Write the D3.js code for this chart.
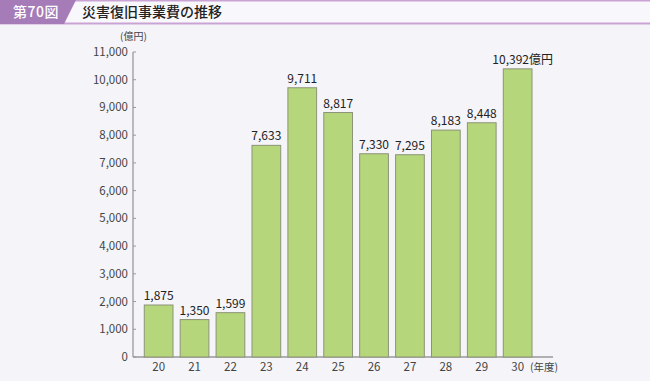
<!DOCTYPE html>
<html>
<head>
<meta charset="utf-8">
<script src="https://cdn.jsdelivr.net/npm/d3@7"></script>
<style>
body{margin:0;background:#f5f4f9;font-family:"Noto Sans CJK JP","Noto Sans",sans-serif;}
svg{display:block;}
</style>
</head>
<body>
<svg id="svg" width="650" height="381"></svg>
<script>
var years=["20","21","22","23","24","25","26","27","28","29","30"];
var values=[1875,1350,1599,7633,9711,8817,7330,7295,8183,8448,10392];
var yTicks=[0,1000,2000,3000,4000,5000,6000,7000,8000,9000,10000,11000];

var svg=d3.select("#svg");

// header band
svg.append("rect").attr("x",0).attr("y",0).attr("width",650).attr("height",24).style("fill","#f8f7fb")
svg.append("rect").attr("x",0).attr("y",0).attr("width",650).attr("height",1.5).style("fill","#c9a3d3")
svg.append("rect").attr("x",0).attr("y",22.5).attr("width",650).attr("height",2).style("fill","#c9a3d3")
svg.append("path").attr("d","M0,0 L76,0 L64,24 L0,24 Z").style("fill","#a67cb8")
svg.append("text").attr("x",13).attr("y",17).text("第70図")
    .style("fill","#fff").style("font-size","14px").style("font-weight","500").style("letter-spacing","0.5px")
svg.append("text").attr("x",82).attr("y",17).text("災害復旧事業費の推移")
    .style("fill","#222").style("font-size","14px").style("font-weight","500")

var x=d3.scaleBand().domain(years).range([137.1,539.2]).paddingInner(0.2).paddingOuter(0.2)
var y=d3.scaleLinear().domain([0,11000]).range([357,52])

var g=svg.append("g")

// axes
g.append("line").attr("x1",133).attr("x2",133).attr("y1",y(11000)).attr("y2",y(0))
    .style("stroke","#999").style("stroke-width",1.3)
g.append("line").attr("x1",133).attr("x2",553).attr("y1",y(0)).attr("y2",y(0))
    .style("stroke","#999").style("stroke-width",1.3)

g.selectAll(".ytick").data(yTicks).enter().append("line")
    .attr("x1",133).attr("x2",136).attr("y1",d=>y(d)).attr("y2",d=>y(d))
    .style("stroke","#999").style("stroke-width",1)
g.selectAll(".ylab").data(yTicks).enter().append("text")
    .attr("x",128).attr("y",d=>y(d)+4).attr("text-anchor","end")
    .text(d=>d3.format(",")(d))
    .style("fill","#444").style("font-size","11.5px")

svg.append("text").attr("x",120).attr("y",40).text("(億円)")
    .style("fill","#444").style("font-size","10px")

// bars
g.selectAll(".bar").data(values).enter().append("rect")
    .attr("x",(d,i)=>x(years[i]))
    .attr("y",d=>y(d))
    .attr("width",x.bandwidth())
    .attr("height",d=>y(0)-y(d))
    .style("fill","#b5d67a")
    .style("stroke","#8c9478")
    .style("stroke-width",1)

g.selectAll(".val").data(values).enter().append("text")
    .attr("x",(d,i)=>x(years[i])+x.bandwidth()/2+(i==10?5:0))
    .attr("y",d=>y(d)-5)
    .attr("text-anchor","middle")
    .text((d,i)=>d3.format(",")(d)+(i==10?"億円":""))
    .style("fill","#222").style("font-size","12px")

g.selectAll(".xlab").data(years).enter().append("text")
    .attr("x",d=>x(d)+x.bandwidth()/2)
    .attr("y",371)
    .attr("text-anchor","middle")
    .text(d=>d)
    .style("fill","#444").style("font-size","11.5px")

svg.append("text").attr("x",530).attr("y",371).text("(年度)")
    .style("fill","#444").style("font-size","10.5px")
</script>
</body>
</html>
